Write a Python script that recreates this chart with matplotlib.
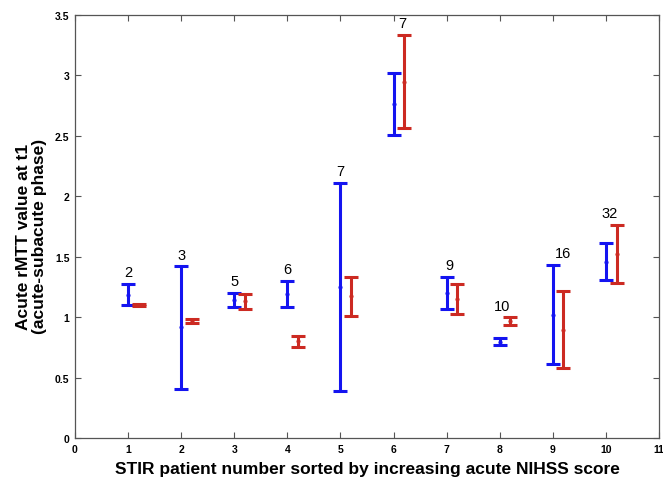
import matplotlib
matplotlib.use("Agg")
import matplotlib.pyplot as plt
import numpy as np

patients = [1, 2, 3, 4, 5, 6, 7, 8, 9, 10]
nihss = ["2", "3", "5", "6", "7", "7", "9", "10", "16", "32"]

blue_mid = [1.185, 0.916, 1.141, 1.188, 1.252, 2.763, 1.197, 0.797, 1.017, 1.459]
blue_low = [1.103, 0.403, 1.081, 1.081, 0.386, 2.509, 1.064, 0.769, 0.612, 1.307]
blue_high = [1.274, 1.420, 1.199, 1.299, 2.112, 3.022, 1.334, 0.827, 1.434, 1.616]

red_mid = [1.100, 0.968, 1.133, 0.800, 1.174, 2.942, 1.150, 0.970, 0.896, 1.519]
red_low = [1.092, 0.951, 1.067, 0.755, 1.012, 2.564, 1.026, 0.937, 0.576, 1.279]
red_high = [1.108, 0.984, 1.194, 0.844, 1.334, 3.333, 1.271, 0.998, 1.216, 1.765]

xticks = list(range(0, 12))
yticks = [0, 0.5, 1, 1.5, 2, 2.5, 3, 3.5]
ytick_labels = ["0", "0.5", "1", "1.5", "2", "2.5", "3", "3.5"]

label_dx = [0, 0, 0, 0, 0, 0.17, 0.05, 0.05, 0.19, 0.06]

plt.rcParams['font.family'] = ['Liberation Sans', 'DejaVu Sans']

fig = plt.figure(figsize=(6.63, 4.81), dpi=100)
ax = fig.add_axes([0.1131, 0.0873, 0.8809, 0.8794])

x = np.array(patients, dtype=float)
bm, bl, bh = map(np.array, (blue_mid, blue_low, blue_high))
rm, rl, rh = map(np.array, (red_mid, red_low, red_high))

blue = "#1414f0"
red = "#cc2a22"
ax.errorbar(x, bm, yerr=[bm - bl, bh - bm], fmt='.', color=blue, ecolor=blue,
            elinewidth=2.2, capsize=5, capthick=2.2, markersize=4)
ax.errorbar(x + 0.2, rm, yerr=[rm - rl, rh - rm], fmt='.', color=red, ecolor=red,
            elinewidth=2.2, capsize=5, capthick=2.2, markersize=4)

for i, p in enumerate(patients):
    top = max(bh[i], rh[i])
    ax.text(p + label_dx[i], top + 0.04, nihss[i], ha='center', va='bottom',
            fontsize=10.5, color='black')

ax.set_xlim(0, 11)
ax.set_ylim(0, 3.5)
ax.set_xticks(xticks)
ax.set_xticklabels([str(t) for t in xticks], fontsize=7.5, fontweight='bold')
ax.set_yticks(yticks)
ax.set_yticklabels(ytick_labels, fontsize=7.5, fontweight='bold')
ax.tick_params(direction='in', top=True, right=True, length=4, width=0.8, color='#555555', pad=4)
for s in ax.spines.values():
    s.set_color('#555555')
    s.set_linewidth(0.9)

ax.set_xlabel("STIR patient number sorted by increasing acute NIHSS score",
              fontsize=12.5, fontweight='bold', labelpad=5)
ax.set_ylabel("Acute rMTT value at t1\n(acute-subacute phase)",
              fontsize=12.5, fontweight='bold', linespacing=1.05)
ax.yaxis.set_label_coords(-0.048, 0.478)

fig.savefig("out.png", dpi=100)
